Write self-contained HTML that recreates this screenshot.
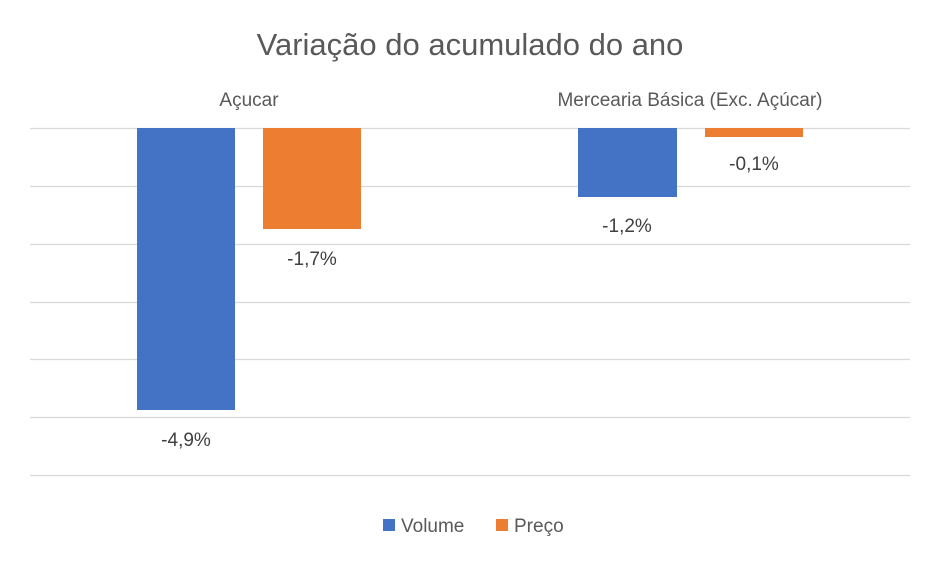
<!DOCTYPE html>
<html><head><meta charset="utf-8"><style>
body{margin:0;background:#fff;}
svg{display:block;font-family:"Liberation Sans",sans-serif;}
</style></head><body>
<svg width="940" height="565" viewBox="0 0 940 565">
<rect width="940" height="565" fill="#fff"/>
<text x="470" y="55" text-anchor="middle" font-size="31" fill="#595959">Variação do acumulado do ano</text>
<text x="249" y="106" text-anchor="middle" font-size="19" fill="#595959">Açucar</text>
<text x="690" y="106" text-anchor="middle" font-size="19" fill="#595959">Mercearia Básica (Exc. Açúcar)</text>
<g stroke="#d9d9d9" stroke-width="1.3">
<line x1="30" x2="910" y1="128.5" y2="128.5"/>
<line x1="30" x2="910" y1="186.5" y2="186.5"/>
<line x1="30" x2="910" y1="244.5" y2="244.5"/>
<line x1="30" x2="910" y1="302.5" y2="302.5"/>
<line x1="30" x2="910" y1="359.5" y2="359.5"/>
<line x1="30" x2="910" y1="417.5" y2="417.5"/>
<line x1="30" x2="910" y1="475.5" y2="475.5"/>
</g>
<rect x="137" y="128" width="98" height="282" fill="#4472C4"/>
<rect x="263" y="128" width="98" height="101" fill="#ED7D31"/>
<rect x="578" y="128" width="99" height="69" fill="#4472C4"/>
<rect x="705" y="128" width="98" height="9" fill="#ED7D31"/>
<g font-size="19" fill="#404040" text-anchor="middle">
<text x="186" y="446">-4,9%</text>
<text x="312" y="265">-1,7%</text>
<text x="627" y="232">-1,2%</text>
<text x="754" y="170">-0,1%</text>
</g>
<rect x="383" y="519" width="12" height="12" fill="#4472C4"/>
<text x="401" y="532" font-size="19" fill="#595959">Volume</text>
<rect x="496" y="519" width="12" height="12" fill="#ED7D31"/>
<text x="514" y="532" font-size="19" fill="#595959">Preço</text>
</svg>
</body></html>
